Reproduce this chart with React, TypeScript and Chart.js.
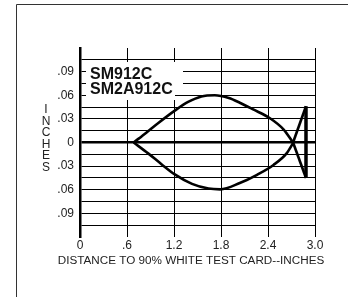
import React, { useEffect, useRef } from "react";
import { Chart, registerables } from "chart.js";

Chart.register(...registerables);

// ---- data ----
const upperX = [0.685, 0.85, 1.0, 1.21, 1.38, 1.55, 1.72, 1.9, 2.04, 2.21, 2.43, 2.6, 2.72];
const upperY = [0, 0.0128, 0.0248, 0.0405, 0.0515, 0.0585, 0.06, 0.0565, 0.0505, 0.042, 0.0305, 0.0165, 0];
const lowerX = [0.685, 0.87, 1.04, 1.21, 1.43, 1.64, 1.79, 2.04, 2.26, 2.47, 2.64, 2.725];
const lowerY = [0, -0.0138, -0.0275, -0.0405, -0.0525, -0.0585, -0.0595, -0.0515, -0.041, -0.0285, -0.0135, 0];
const tailX = [2.72, 2.885];
const tailUpperY = [0, 0.046];
const tailLowerY = [0, -0.045];
const edgeX = [2.885, 2.885];
const edgeY = [0.046, -0.045];

const xTickValues = [0, 0.6, 1.2, 1.8, 2.4, 3.0];
const xTickLabels = ["0", ".6", "1.2", "1.8", "2.4", "3.0"];
const yTickValues = [-0.105, -0.09, -0.075, -0.06, -0.045, -0.03, -0.015, 0, 0.015, 0.03, 0.045, 0.06, 0.075, 0.09, 0.105];
const yTickLabels = ["", ".09", "", ".06", "", ".03", "", "0", "", ".03", "", ".06", "", ".09", ""];

const legendLines = ["SM912C", "SM2A912C"];
const yTitle = "INCHES";
const xTitle = "DISTANCE TO 90% WHITE TEST CARD--INCHES";

const pts = (xs: number[], ys: number[]) => xs.map((x, i) => ({ x, y: ys[i] }));

const decor = {
  id: "decor",
  beforeDraw(chart: any) {
    const ctx = chart.ctx;
    ctx.save();
    ctx.fillStyle = "#fff";
    ctx.fillRect(0, 0, chart.width, chart.height);
    ctx.strokeStyle = "#333";
    ctx.lineWidth = 1;
    ctx.beginPath();
    ctx.moveTo(16.5, chart.height);
    ctx.lineTo(16.5, 4.5);
    ctx.lineTo(chart.width, 4.5);
    ctx.stroke();
    ctx.restore();
  },
  beforeDatasetsDraw(chart: any) {
    const ctx = chart.ctx;
    ctx.save();
    // legend label boxes
    ctx.fillStyle = "#fff";
    ctx.fillRect(86, 62, 97, 27);
    ctx.fillRect(86, 89, 89, 11);
    ctx.fillStyle = "#111";
    ctx.font = "bold 16px Arial, 'Liberation Sans', sans-serif";
    ctx.textBaseline = "middle";
    ctx.textAlign = "left";
    ctx.fillText(legendLines[0], 90, 75);
    ctx.fillText(legendLines[1], 90, 90);
    // y title stacked letters
    ctx.fillStyle = "#222";
    ctx.font = "12px Arial, 'Liberation Sans', sans-serif";
    ctx.textAlign = "center";
    yTitle.split("").forEach((ch, i) => {
      ctx.fillText(ch, 46, 110 + i * 11.5);
    });
    // x title
    ctx.font = "11.7px Arial, 'Liberation Sans', sans-serif";
    ctx.fillText(xTitle, 191, 261);
    ctx.restore();
  },
};

export default function App() {
  const ref = useRef<HTMLCanvasElement>(null);
  useEffect(() => {
    if (!ref.current) return;
    const lineBase = {
      borderColor: "#000",
      pointRadius: 0,
      fill: false,
    };
    const chart = new Chart(ref.current, {
      type: "line",
      data: {
        datasets: [
          { ...lineBase, data: pts(upperX, upperY), borderWidth: 2.6, cubicInterpolationMode: "monotone" },
          { ...lineBase, data: pts(lowerX, lowerY), borderWidth: 2.6, cubicInterpolationMode: "monotone" },
          { ...lineBase, data: pts(tailX, tailUpperY), borderWidth: 2.6, tension: 0 },
          { ...lineBase, data: pts(tailX, tailLowerY), borderWidth: 2.6, tension: 0 },
          { ...lineBase, data: pts(edgeX, edgeY), borderWidth: 3.5, tension: 0 },
        ],
      },
      options: {
        responsive: false,
        animation: false,
        devicePixelRatio: 1,
        layout: { padding: { top: 48, right: 33, left: 0, bottom: 0 } },
        plugins: { legend: { display: false }, tooltip: { enabled: false } },
        scales: {
          x: {
            type: "linear",
            min: 0,
            max: 3.0,
            afterBuildTicks: (s: any) => {
              s.ticks = xTickValues.map((v) => ({ value: v }));
            },
            afterFit: (s: any) => {
              s.height = 60;
            },
            ticks: {
              padding: 1,
              color: "#222",
              font: { family: "Arial, 'Liberation Sans', sans-serif", size: 12 },
              callback: (_v: any, i: number) => xTickLabels[i],
              maxRotation: 0,
              autoSkip: false,
            },
            grid: { color: "#000", lineWidth: 1, drawTicks: false },
            border: { display: false },
          },
          y: {
            type: "linear",
            min: -0.12,
            max: 0.12,
            afterBuildTicks: (s: any) => {
              s.ticks = yTickValues.map((v) => ({ value: v }));
            },
            afterFit: (s: any) => {
              s.width = 80;
            },
            ticks: {
              padding: 6,
              color: "#222",
              font: { family: "Arial, 'Liberation Sans', sans-serif", size: 12 },
              callback: (_v: any, i: number) => yTickLabels[i],
              autoSkip: false,
            },
            grid: {
              color: "#000",
              lineWidth: (c: any) => (c.tick && c.tick.value === 0 ? 2.5 : 1),
              drawTicks: false,
            },
            border: { display: true, color: "#000", width: 2.5 },
          },
        },
      },
      plugins: [decor],
    } as any);
    return () => chart.destroy();
  }, []);
  return (
    <div style={{ position: "fixed", left: 0, top: 0, width: 348, height: 297, overflow: "hidden" }}>
      <canvas ref={ref} width={348} height={297} style={{ display: "block" }} />
    </div>
  );
}
